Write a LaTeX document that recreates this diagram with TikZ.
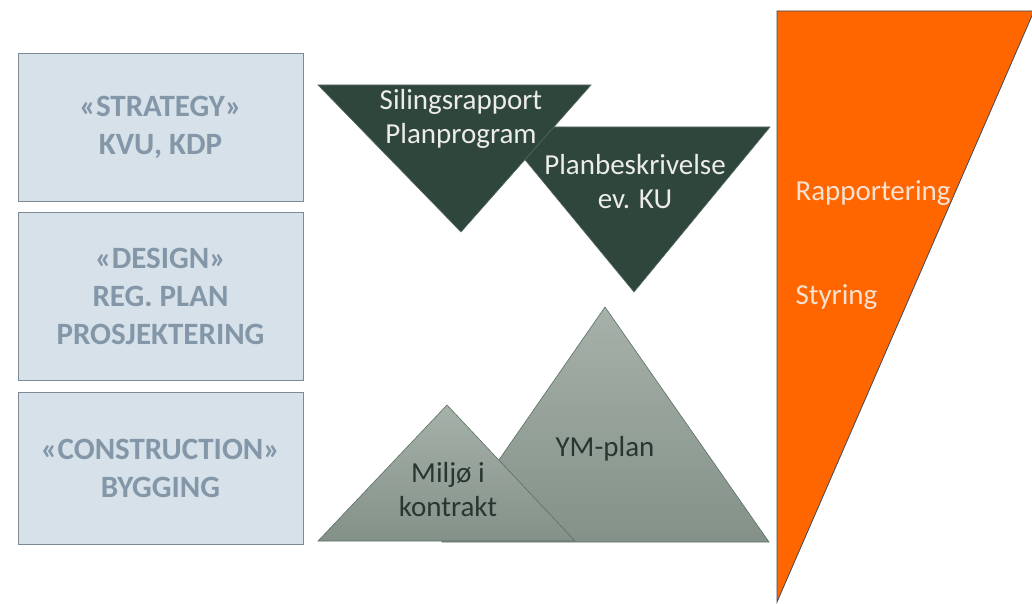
\documentclass[tikz,border=0pt]{standalone}
\usepackage{fontspec}
\setmainfont{Carlito}
% cores usadas na figura
\definecolor{fundoCaixa}{RGB}{214,225,233}
\definecolor{bordaCaixa}{RGB}{125,137,148}
\definecolor{textoCaixa}{RGB}{132,151,168}
\definecolor{verdeEscuro}{RGB}{47,70,60}
\definecolor{textoClaro}{RGB}{236,236,232}
\definecolor{cinzaTopo}{RGB}{165,177,169}
\definecolor{cinzaBase}{RGB}{132,145,137}
\definecolor{bordaCinza}{RGB}{92,112,102}
\definecolor{textoEscuro}{RGB}{40,54,48}
\definecolor{laranja}{RGB}{255,102,0}
\definecolor{bordaLaranja}{RGB}{62,76,92}
\definecolor{textoLaranja}{RGB}{246,226,210}
\begin{document}
\begin{tikzpicture}[x=1pt,y=-1pt]
%============================================================
%  Estilos das caixas, triangulos e textos
%============================================================
\tikzset{ % Importante:
          % Linha em branco nessa seção dá erro de compilação!
    % ---  Caixas da esquerda ------
    caixa/.style={ %
            rectangle,        % formato retangular
            draw=bordaCaixa,  % contorno cinza
            fill=fundoCaixa,  % fundo azul claro
            line width=1pt,   %
            minimum width=285pt,  %
            text=textoCaixa,  % texto cinza azulado
            align=center,     %
            font=\fontsize{31}{38}\selectfont\bfseries
        },
    % ---  Triangulos ------
    trianguloEscuro/.style={ %
            fill=verdeEscuro, % verde bem escuro
            draw=verdeEscuro!80!white, %
            line width=0.6pt  %
        },
    trianguloCinza/.style={ %
            top color=cinzaTopo,    % degrade de cima
            bottom color=cinzaBase, % para baixo
            draw=bordaCinza,        %
            line width=0.6pt        %
        },
    trianguloLaranja/.style={ %
            fill=laranja,       %
            draw=bordaLaranja,  % contorno escuro
            line width=0.8pt    %
        },
    % ---  Textos ------
    textoTriangulo/.style={ %
            align=center, %
            text=textoClaro, %
            font=\fontsize{29}{34}\selectfont
        },
    textoMontanha/.style={ %
            align=center, %
            text=textoEscuro, %
            font=\fontsize{29}{34}\selectfont
        },
    textoLateral/.style={ %
            anchor=west, %
            text=textoLaranja, %
            font=\fontsize{29}{30}\selectfont
        }
}

   % area total da figura (em pixels)
   \useasboundingbox (0,0) rectangle (1032,604);

   % caixas das fases
   \node[caixa,minimum height=147pt] (estrategia) at (160.5,127.5) {«STRATEGY»\\KVU, KDP};
   \node[caixa,minimum height=168pt] (projeto) at (160.5,296) {«DESIGN»\\REG. PLAN\\PROSJEKTERING};
   \node[caixa,minimum height=152pt] (construcao) at (160.5,468) {«CONSTRUCTION»\\BYGGING};

   % vertices dos triangulos de cima (invertidos)
   \coordinate (t2a) at (498,127);
   \coordinate (t2b) at (770,127);
   \coordinate (t2c) at (634,292);
   \coordinate (t1a) at (318,85);
   \coordinate (t1b) at (591,85);
   \coordinate (t1c) at (461,232);
   \draw[trianguloEscuro] (t2a) -- (t2b) -- (t2c) -- cycle;
   \draw[trianguloEscuro] (t1a) -- (t1b) -- (t1c) -- cycle;
   \node[textoTriangulo] (siling) at (461,119) {Silingsrapport\\Planprogram};
   \node[textoTriangulo] (planbeskr) at (635,182) {Planbeskrivelse\\ev. KU};

   % montanhas (triangulos cinzas)
   \coordinate (m2a) at (442,542);
   \coordinate (m2b) at (769,542);
   \coordinate (m2c) at (605,307);
   \coordinate (m1a) at (318,541);
   \coordinate (m1b) at (575,541);
   \coordinate (m1c) at (447,405);
   \draw[trianguloCinza] (m2a) -- (m2b) -- (m2c) -- cycle;
   \draw[trianguloCinza] (m1a) -- (m1b) -- (m1c) -- cycle;
   \node[textoMontanha] (ymplan) at (605,449) {YM-plan};
   \node[textoMontanha] (miljo) at (448,490) {Miljø i\\kontrakt};

   % triangulo laranja da direita
   \coordinate (l1) at (777,11);
   \coordinate (l2) at (1034,11);
   \coordinate (l3) at (777,602);
   \draw[trianguloLaranja] (l1) -- (l2) -- (l3) -- cycle;
   \node[textoLateral] (rapport) at (792,193) {Rapportering};
   \node[textoLateral] (styring) at (792,297) {Styring};
\end{tikzpicture}
\end{document}
